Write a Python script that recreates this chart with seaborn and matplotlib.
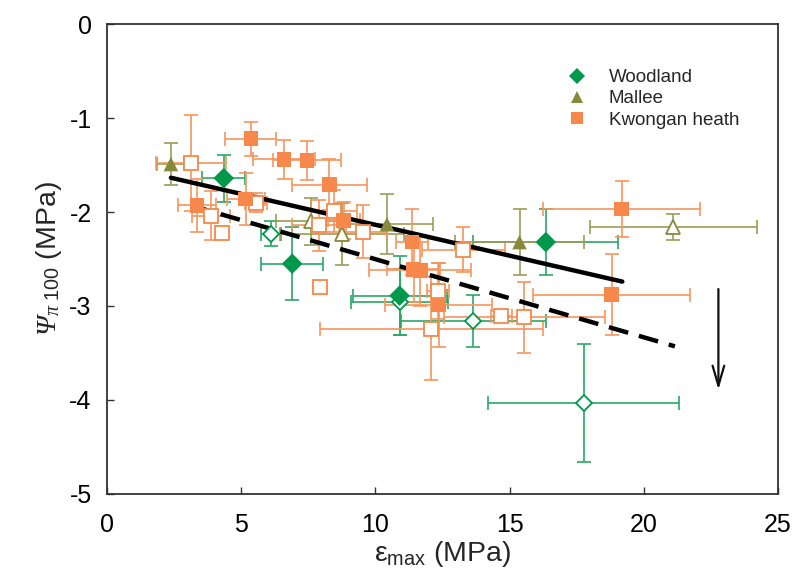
import numpy as np
import pandas as pd
import matplotlib
matplotlib.use("Agg")
import matplotlib.pyplot as plt
import seaborn as sns

# ---- data: osmotic potential at full turgor vs. maximum bulk modulus ----
groups = ["Woodland", "Mallee", "Kwongan heath"]

wood_x    = [4.35, 6.90, 10.90, 16.35, 6.12, 10.90, 13.64, 17.76]
wood_y    = [-1.64, -2.55, -2.89, -2.32, -2.23, -2.96, -3.16, -4.03]
wood_xerr = [0.80, 1.15, 1.75, 2.70, 0.37, 1.80, 2.70, 3.55]
wood_yerr = [0.25, 0.39, 0.42, 0.35, 0.13, 0.35, 0.28, 0.63]
wood_fill = [1, 1, 1, 1, 0, 0, 0, 0]

mall_x    = [2.38, 10.43, 15.37, 7.60, 8.75, 21.10]
mall_y    = [-1.49, -2.13, -2.32, -2.10, -2.23, -2.16]
mall_xerr = [0.50, 1.70, 2.40, 1.30, 2.30, 3.10]
mall_yerr = [0.22, 0.32, 0.35, 0.25, 0.33, 0.14]
mall_fill = [1, 1, 1, 0, 0, 0]

kwon_x    = [5.36, 6.60, 7.45, 8.28, 3.35, 5.17, 8.82, 11.37, 11.42, 11.68,
             12.36, 19.18, 18.80,
             3.12, 4.27, 3.88, 5.55, 7.95, 7.91, 8.45, 9.54, 13.27, 12.34,
             12.09, 14.69, 15.54]
kwon_y    = [-1.22, -1.44, -1.45, -1.71, -1.93, -1.86, -2.09, -2.32, -2.61, -2.62,
             -2.99, -1.97, -2.88,
             -1.48, -2.22, -2.04, -1.90, -2.80, -2.14, -1.99, -2.21, -2.40, -2.84,
             -3.24, -3.11, -3.12]
kwon_xerr = [0.95, 1.15, 1.25, 1.40, 0.72, 0.70, 0.60, 0.60, 1.00, 1.90,
             2.00, 2.93, 2.92,
             1.30, 0.15, 0.70, 0.40, 0.15, 1.00, 0.85, 0.90, 1.55, 0.40,
             4.15, 0.40, 3.00]
kwon_yerr = [0.18, 0.21, 0.21, 0.27, 0.28, 0.28, 0.20, 0.35, 0.35, 0.38,
             0.45, 0.30, 0.43,
             0.51, 0.07, 0.26, 0.10, 0.05, 0.27, 0.22, 0.28, 0.24, 0.30,
             0.55, 0.05, 0.38]
kwon_fill = [1] * 13 + [0] * 13

# fitted regressions (intercept, slope, x range)
fit_solid  = (-1.479, -0.0657, 2.38, 19.2)
fit_dashed = (-1.671, -0.0831, 3.12, 21.16)

colors  = {"Woodland": "#00994c", "Mallee": "#878a3a", "Kwongan heath": "#f5884a"}
bar_col = {"Woodland": "#2aa866", "Mallee": "#9a9c55", "Kwongan heath": "#f6955e"}
markers = {"Woodland": "D", "Mallee": "^", "Kwongan heath": "s"}
msizes  = {"Woodland": 8.5, "Mallee": 10, "Kwongan heath": 10}

frames = []
for g, xs, ys, xe, ye, fl in [
    ("Woodland", wood_x, wood_y, wood_xerr, wood_yerr, wood_fill),
    ("Mallee", mall_x, mall_y, mall_xerr, mall_yerr, mall_fill),
    ("Kwongan heath", kwon_x, kwon_y, kwon_xerr, kwon_yerr, kwon_fill),
]:
    frames.append(pd.DataFrame({"group": g, "x": xs, "y": ys,
                                "xerr": xe, "yerr": ye, "filled": fl}))
df = pd.concat(frames, ignore_index=True)

sns.set_theme(style="white")
plt.rcParams["font.family"] = ["Liberation Sans", "DejaVu Sans"]
plt.rcParams["axes.unicode_minus"] = False
# math symbols in an italic serif face, digits in sans via \mathsf
plt.rcParams["mathtext.fontset"] = "custom"
plt.rcParams["mathtext.rm"] = "Liberation Serif:italic"
plt.rcParams["mathtext.it"] = "Liberation Serif:italic"
plt.rcParams["mathtext.sf"] = "Liberation Sans"

fig = plt.figure(figsize=(7.95, 5.83), dpi=100)
ax = fig.add_axes([0.1346, 0.1527, 0.8440, 0.8061])

# error bars
for g in groups:
    sub = df[df.group == g]
    ax.errorbar(sub.x, sub.y, xerr=sub.xerr, yerr=sub.yerr, fmt="none",
                ecolor=bar_col[g], elinewidth=1.2, capsize=5, capthick=1.2,
                zorder=1)

# regression lines
for (a, b, x0, x1), ls in [(fit_solid, "-"), (fit_dashed, (0, (4.5, 2.5)))]:
    xx = np.array([x0, x1])
    line = pd.DataFrame({"x": xx, "y": a + b * xx})
    sns.lineplot(data=line, x="x", y="y", ax=ax, color="black", lw=3.2,
                 linestyle=ls, zorder=3)

# markers: filled and open
for g in groups:
    sub = df[df.group == g]
    ax.plot(sub.x[sub.filled == 0], sub.y[sub.filled == 0], linestyle="none",
            marker=markers[g], ms=msizes[g], mfc="white", mec=colors[g],
            mew=1.3, zorder=4)
sns.scatterplot(data=df[df.filled == 1], x="x", y="y", hue="group",
                style="group", hue_order=groups, style_order=groups,
                palette=colors, markers=markers, s=110, linewidth=0,
                ax=ax, zorder=5, legend=True)

# arrow marking the shift downward
ax.annotate("", xy=(22.78, -3.92), xytext=(22.78, -2.79),
            arrowprops=dict(arrowstyle="->,head_length=1.2,head_width=0.35",
                            color="#111111", lw=1.6))

ax.set_xlim(0, 25)
ax.set_ylim(-5, 0)
ax.set_xticks([0, 5, 10, 15, 20, 25])
ax.set_yticks([0, -1, -2, -3, -4, -5])
ax.tick_params(axis="both", direction="in", length=5, width=1,
               labelsize=18, colors="#333333", labelcolor="black",
               bottom=True, left=True, top=False, right=False)
ax.tick_params(axis="x", pad=14)
ax.tick_params(axis="y", pad=11)
for s in ax.spines.values():
    s.set_color("#333333")
    s.set_linewidth(1.3)

ax.set_xlabel(r"$\mathregular{ε_{max}}$ (MPa)", fontsize=20.5, labelpad=1)
ax.set_ylabel(r"$Ψ_{π\ \mathsf{100}}$ (MPa)", fontsize=20.5, labelpad=4)

leg = ax.legend(loc="upper left", bbox_to_anchor=(0.647, 0.94), frameon=False,
                fontsize=13.5, handletextpad=0.7, labelspacing=0.22,
                markerscale=0.8, title=None)

fig.savefig("out.png", dpi=100)
